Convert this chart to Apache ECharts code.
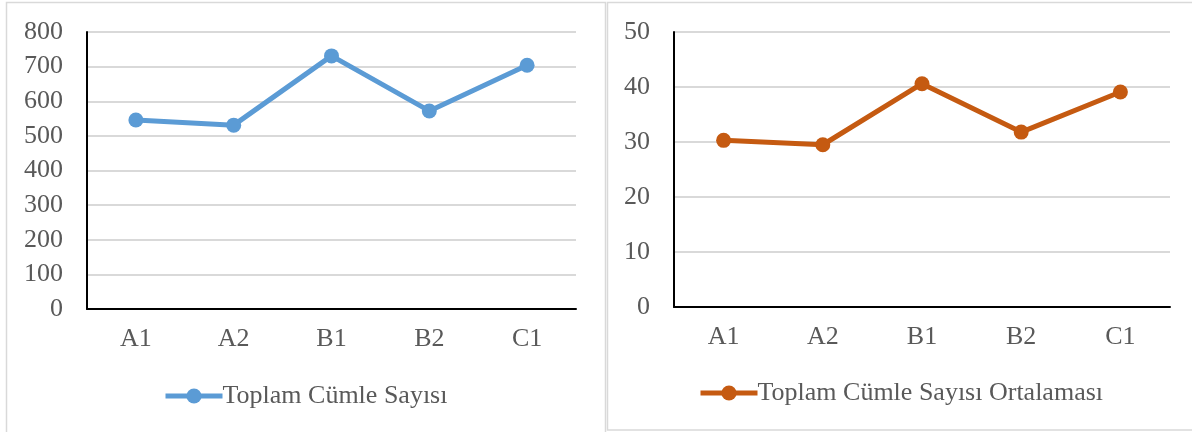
<!DOCTYPE html>
<html>
<head>
<meta charset="utf-8">
<script src="https://cdn.jsdelivr.net/npm/echarts@6/dist/echarts.min.js"></script>
<style>
  html, body { margin: 0; padding: 0; background: #fff; }
  #chart { width: 1192px; height: 432px; }
</style>
</head>
<body>
<div id="chart"></div>
<script>
// Seviye kategorileri
const levels = ['A1', 'A2', 'B1', 'B2', 'C1'];
// Toplam cümle sayısı
const totalSentences = [546, 531, 731, 572, 704];
// Toplam cümle sayısı ortalaması
const avgSentences = [30.3, 29.5, 40.6, 31.8, 39.1];
// Eksen sınırları
const leftAxis = { min: 0, max: 800, step: 100 };
const rightAxis = { min: 0, max: 50, step: 10 };

const FONT = '"Liberation Serif", "Times New Roman", serif';
const TEXT = '#595959';
const GRIDLINE = '#d9d9d9';
const FS = 26;

function xAxisFor(gridIndex) {
  return {
    type: 'category', gridIndex, data: levels, boundaryGap: true,
    axisLine: { lineStyle: { color: '#000', width: 2 } },
    axisTick: { show: false },
    axisLabel: { color: TEXT, fontFamily: FONT, fontSize: FS, margin: 17 },
    splitLine: { show: false }
  };
}
function yAxisFor(gridIndex, a) {
  return {
    type: 'value', gridIndex, min: a.min, max: a.max, interval: a.step,
    axisLine: { show: true, lineStyle: { color: '#000', width: 2 } },
    axisTick: { show: false },
    axisLabel: { color: TEXT, fontFamily: FONT, fontSize: FS, margin: 24 },
    splitLine: { lineStyle: { color: GRIDLINE, width: 2 } }
  };
}
function lineSeries(name, data, color, idx) {
  return {
    name, type: 'line', data, xAxisIndex: idx, yAxisIndex: idx,
    symbol: 'circle', symbolSize: 15, showSymbol: true,
    lineStyle: { color, width: 5 },
    itemStyle: { color },
    animation: false
  };
}
function legendFor(name, left, top, width) {
  return {
    data: [name], left, top,
    itemWidth: width, itemHeight: 19, itemGap: 2,
    lineStyle: { width: 5 },
    textStyle: { color: TEXT, fontFamily: FONT, fontSize: FS, padding: [0, 0, 0, -5] }
  };
}

const chart = echarts.init(document.getElementById('chart'), null, { renderer: 'canvas' });
chart.setOption({
  backgroundColor: '#fff',
  animation: false,
  graphic: [
    { type: 'rect', shape: { x: 6.5, y: 2.5, width: 599, height: 440 }, style: { fill: 'none', stroke: '#d9d9d9', lineWidth: 1.5 }, silent: true },
    { type: 'rect', shape: { x: 607.5, y: 2.5, width: 600, height: 427.5 }, style: { fill: 'none', stroke: '#d9d9d9', lineWidth: 1.5 }, silent: true }
  ],
  grid: [
    { left: 87, top: 32, width: 489, height: 277 },
    { left: 674, top: 32, width: 496, height: 275 }
  ],
  xAxis: [xAxisFor(0), xAxisFor(1)],
  yAxis: [yAxisFor(0, leftAxis), yAxisFor(1, rightAxis)],
  legend: [
    legendFor('Toplam Cümle Sayısı', 158, 378, 57),
    legendFor('Toplam Cümle Sayısı Ortalaması', 693, 375, 57)
  ],
  series: [
    lineSeries('Toplam Cümle Sayısı', totalSentences, '#5b9bd5', 0),
    lineSeries('Toplam Cümle Sayısı Ortalaması', avgSentences, '#c55a11', 1)
  ]
});
</script>
</body>
</html>
